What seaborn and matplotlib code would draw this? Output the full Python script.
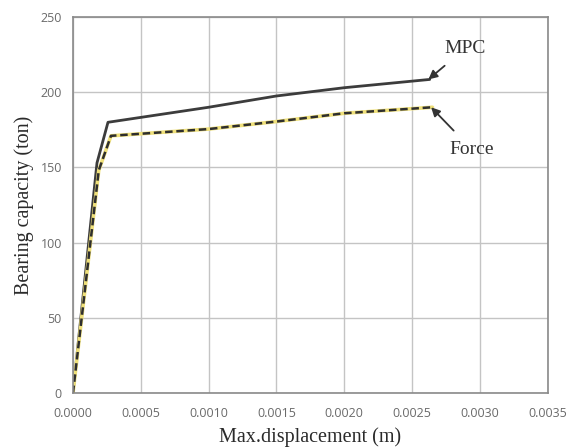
import matplotlib
matplotlib.use("Agg")
import matplotlib.pyplot as plt
import seaborn as sns
import pandas as pd

mpc_x = [0.0, 0.000177, 0.000258, 0.0010, 0.0015, 0.0020, 0.00263]
mpc_y = [0.0, 153, 180, 190, 197.5, 203, 208.5]
force_x = [0.0, 0.00019, 0.00028, 0.0010, 0.0015, 0.0020, 0.00265]
force_y = [0.0, 148, 171, 175.5, 180.5, 186, 190]
x_ticks = [0.0, 0.0005, 0.0010, 0.0015, 0.0020, 0.0025, 0.0030, 0.0035]
y_ticks = [0, 50, 100, 150, 200, 250]

sns.set_theme(style="whitegrid")
fig = plt.figure(figsize=(5.76, 4.48), dpi=100)
ax = fig.add_axes([0.1267, 0.1228, 0.8243, 0.8392])

mpc = pd.DataFrame({"x": mpc_x, "y": mpc_y})
frc = pd.DataFrame({"x": force_x, "y": force_y})

sns.lineplot(data=mpc, x="x", y="y", ax=ax, color="#3c3c3c", linewidth=2.0, sort=False)
sns.lineplot(data=frc, x="x", y="y", ax=ax, color="#efe07a", linewidth=2.6, sort=False)
sns.lineplot(data=frc, x="x", y="y", ax=ax, color="#2e2e2e", linewidth=1.8,
             linestyle=(0, (3, 1.5)), sort=False)

ax.set_xlim(0, 0.0035)
ax.set_ylim(0, 250)
ax.set_xticks(x_ticks)
ax.set_yticks(y_ticks)
ax.set_xticklabels([f"{v:.4f}" for v in x_ticks])
ax.set_yticklabels([str(v) for v in y_ticks])
ax.tick_params(axis="x", labelsize=9, labelcolor="#6a6a6a", length=0, pad=10)
ax.tick_params(axis="y", labelsize=9, labelcolor="#6a6a6a", length=0, pad=8)
for lbl in ax.get_xticklabels() + ax.get_yticklabels():
    lbl.set_family("Open Sans")

ax.grid(True, color="#c4c4c4", linewidth=1.0)
for s in ax.spines.values():
    s.set_visible(True)
    s.set_color("#8a8a8a")
    s.set_linewidth(1.2)

ax.set_xlabel("Max.displacement (m)", family="Liberation Serif", fontsize=14.5,
              color="#2a2a2a", labelpad=5)
ax.set_ylabel("Bearing capacity (ton)", family="Liberation Serif", fontsize=14.5,
              color="#2a2a2a", labelpad=5)

ax.annotate("MPC", xy=(0.00262, 208.5), xytext=(0.00289, 229),
            family="Liberation Serif", fontsize=14, color="#333333",
            ha="center", va="center",
            arrowprops=dict(arrowstyle="-|>", color="#333333", lw=1.3, mutation_scale=13,
                            shrinkA=6, shrinkB=0))
ax.annotate("Force", xy=(0.00264, 190), xytext=(0.00294, 162),
            family="Liberation Serif", fontsize=14, color="#333333",
            ha="center", va="center",
            arrowprops=dict(arrowstyle="-|>", color="#333333", lw=1.3, mutation_scale=13,
                            shrinkA=7, shrinkB=0))

fig.savefig("out.png", dpi=100)
